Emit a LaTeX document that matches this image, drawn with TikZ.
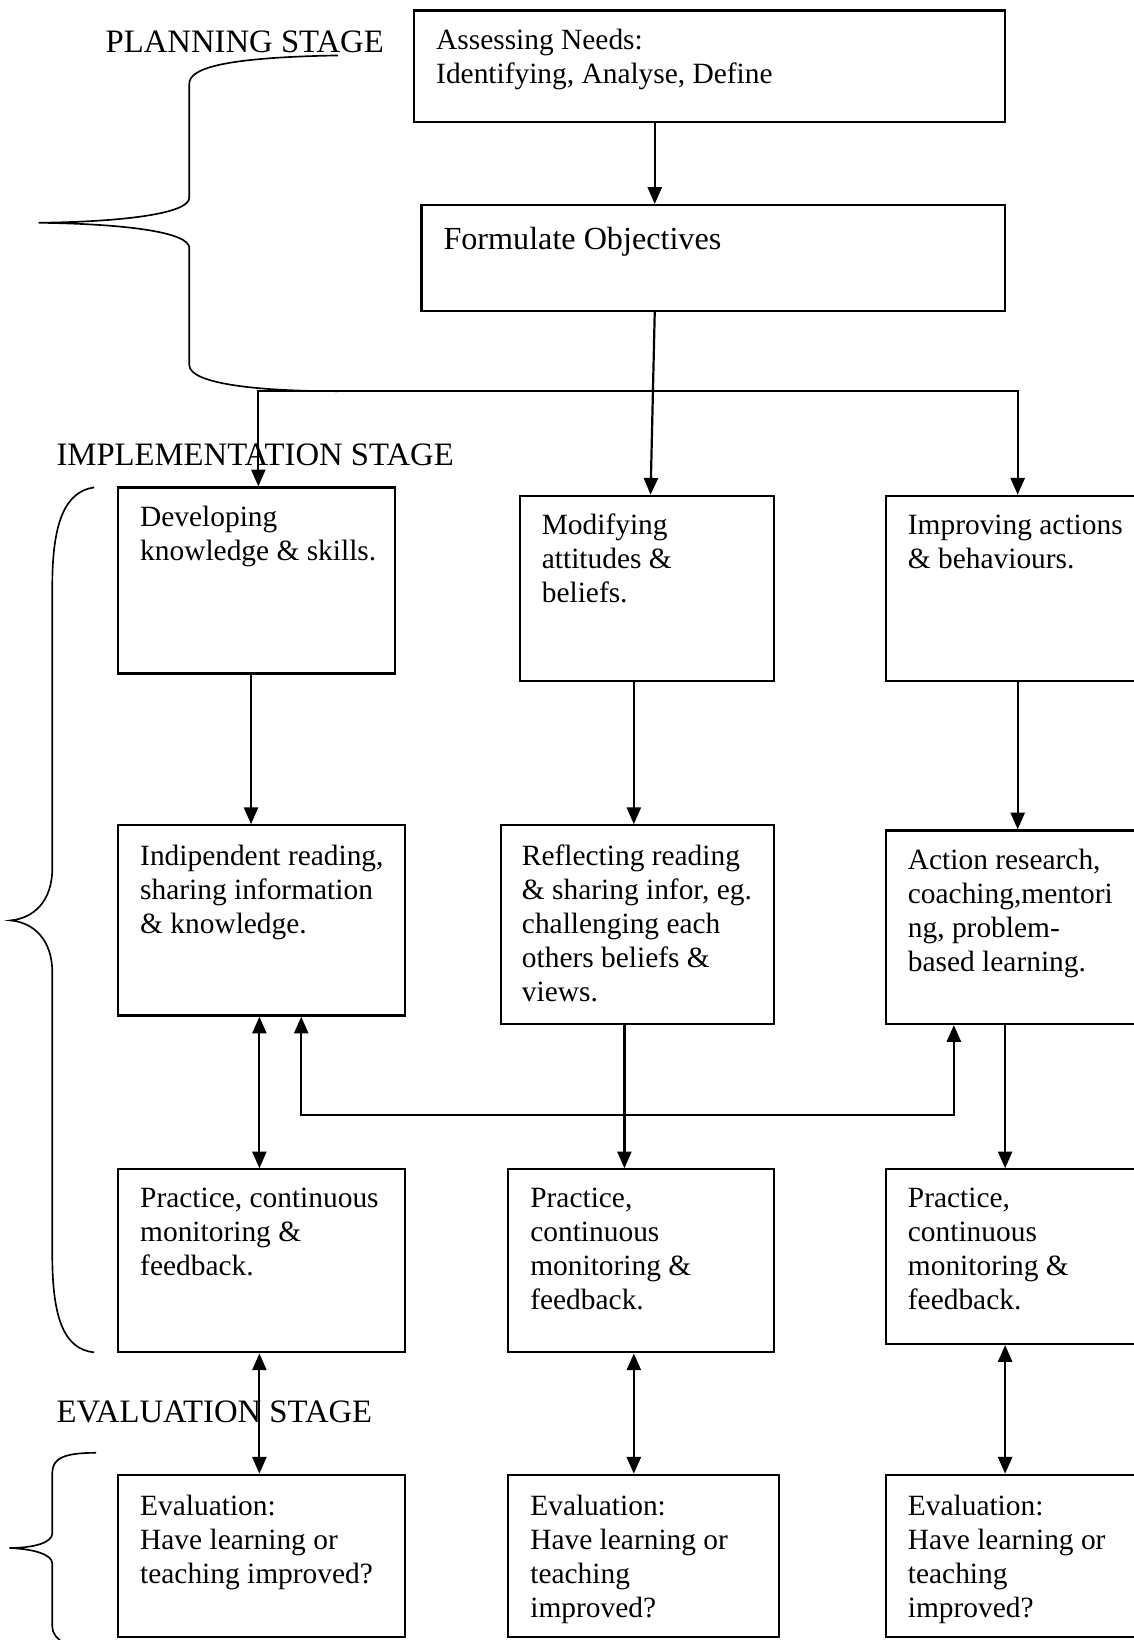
\documentclass[tikz,border=0pt]{standalone}
\usepackage{fontspec}
\setmainfont{Liberation Serif}
\usetikzlibrary{arrows.meta,fit}

\begin{document}
\begin{tikzpicture}[
            x=0.02cm,y=-0.02cm,
            line width=1.2pt,
            >={Triangle[length=3.2mm,width=2.7mm]},
            stepbox/.style={draw,rectangle,inner sep=0pt},
            txt/.style={anchor=north west,inner sep=0pt,align=left,font=\fontsize{16}{18.5}\selectfont},
            stage/.style={anchor=north west,inner sep=0pt,font=\fontsize{17.8}{20}\selectfont},
            brace/.style={line width=0.9pt}
          ]
          \useasboundingbox (0,0) rectangle (1084,1568);
          \clip (0,0) rectangle (1084,1568);

          %planning
          \node[stepbox,fit={(396,10) (961,117)}] (needs) {};
          \node[stepbox,fit={(403,196) (961,297)}] (obj) {};
          \node[txt] (needs-t) at (416,27) {Assessing Needs:\\Identifying, Analyse, Define};
          \node[txt,font=\fontsize{17.5}{20}\selectfont] (obj-t) at (423,216) {Formulate Objectives};

          %implementation
          \node[stepbox,fit={(113,466) (378,644)}] (dev) {};
          \node[stepbox,fit={(497,474) (740,651)}] (mod) {};
          \node[stepbox,fit={(847,474) (1100,651)}] (imp) {};
          \node[txt] (dev-t) at (133,483) {Developing\\knowledge \& skills.};
          \node[txt] (mod-t) at (517,490) {Modifying\\attitudes \&\\beliefs.};
          \node[txt] (imp-t) at (867,491) {Improving actions\\\& behaviours.};

          \node[stepbox,fit={(113,789) (387,971)}] (read) {};
          \node[stepbox,fit={(479,789) (740,979)}] (refl) {};
          \node[stepbox,fit={(847,794) (1100,979)}] (act) {};
          \node[txt] (read-t) at (133,807) {Indipendent reading,\\sharing information\\\& knowledge.};
          \node[txt] (refl-t) at (498,807) {Reflecting reading\\\& sharing infor, eg.\\challenging each\\others beliefs \&\\views.};
          \node[txt] (act-t) at (867,811) {Action research,\\coaching,mentori\\ng, problem-\\based learning.};

          \node[stepbox,fit={(113,1118) (387,1293)}] (prac1) {};
          \node[stepbox,fit={(486,1118) (740,1293)}] (prac2) {};
          \node[stepbox,fit={(847,1118) (1100,1285)}] (prac3) {};
          \node[txt] (prac1-t) at (133,1135) {Practice, continuous\\monitoring \&\\feedback.};
          \node[txt] (prac2-t) at (506,1135) {Practice,\\continuous\\monitoring \&\\feedback.};
          \node[txt] (prac3-t) at (867,1135) {Practice,\\continuous\\monitoring \&\\feedback.};

          %evaluation
          \node[stepbox,fit={(113,1410) (387,1565)}] (eval1) {};
          \node[stepbox,fit={(486,1410) (745,1565)}] (eval2) {};
          \node[stepbox,fit={(847,1410) (1100,1565)}] (eval3) {};
          \node[txt] (eval1-t) at (133,1428) {Evaluation:\\Have learning or\\teaching improved?};
          \node[txt] (eval2-t) at (506,1428) {Evaluation:\\Have learning or\\teaching\\improved?};
          \node[txt] (eval3-t) at (867,1428) {Evaluation:\\Have learning or\\teaching\\improved?};

          %stage labels
          \node[stage] (plan-l) at (100,28) {PLANNING STAGE};
          \node[stage] (impl-l) at (53,423) {IMPLEMENTATION STAGE};
          \node[stage] (eval-l) at (53,1338) {EVALUATION STAGE};

          %braces
          \draw[brace] (323,53) .. controls (210,55) and (181,66) .. (181,80) -- (181,189)
            .. controls (181,204) and (120,212) .. (37,213)
            .. controls (120,214) and (181,222) .. (181,237) -- (181,349)
            .. controls (181,366) and (240,374) .. (323,374);
          \draw[brace] (90,466) .. controls (62,470) and (50,500) .. (50,560) -- (50,830)
            .. controls (50,862) and (32,878) .. (10,880)
            .. controls (32,882) and (50,898) .. (50,930) -- (50,1200)
            .. controls (50,1262) and (62,1290) .. (90,1293);
          \draw[brace] (92,1389) .. controls (62,1389) and (50,1394) .. (50,1408) -- (50,1466)
            .. controls (50,1475) and (32,1480) .. (9,1480)
            .. controls (32,1481) and (50,1486) .. (50,1495) -- (50,1555)
            .. controls (50,1562) and (54,1566) .. (62,1572);

          %arrows
          \coordinate (fork) at (247,374);
          \coordinate (back) at (288,1066);
          \draw[->] (needs.south -| 626,0) -- (obj.north -| 626,0);
          \draw[->] (obj.south -| 626,0) -- (mod.north -| 622,0);
          \draw[<->] (dev.north -| fork) -- (fork) -| (imp.north -| 973,0);
          \draw[->] (dev.south -| 240,0) -- (read.north -| 240,0);
          \draw[->] (mod.south -| 606,0) -- (refl.north -| 606,0);
          \draw[->] (imp.south -| 973,0) -- (act.north -| 973,0);
          \draw[<->] (read.south -| 248,0) -- (prac1.north -| 248,0);
          \draw[<->] (read.south -| back) -- (back) -| (act.south -| 912,0);
          \draw[->] (refl.south -| 597,0) -- (prac2.north -| 597,0);
          \draw[->] (act.south -| 961,0) -- (prac3.north -| 961,0);
          \draw[<->] (prac1.south -| 248,0) -- (eval1.north -| 248,0);
          \draw[<->] (prac2.south -| 606,0) -- (eval2.north -| 606,0);
          \draw[<->] (prac3.south -| 961,0) -- (eval3.north -| 961,0);
      \end{tikzpicture}
\end{document}
